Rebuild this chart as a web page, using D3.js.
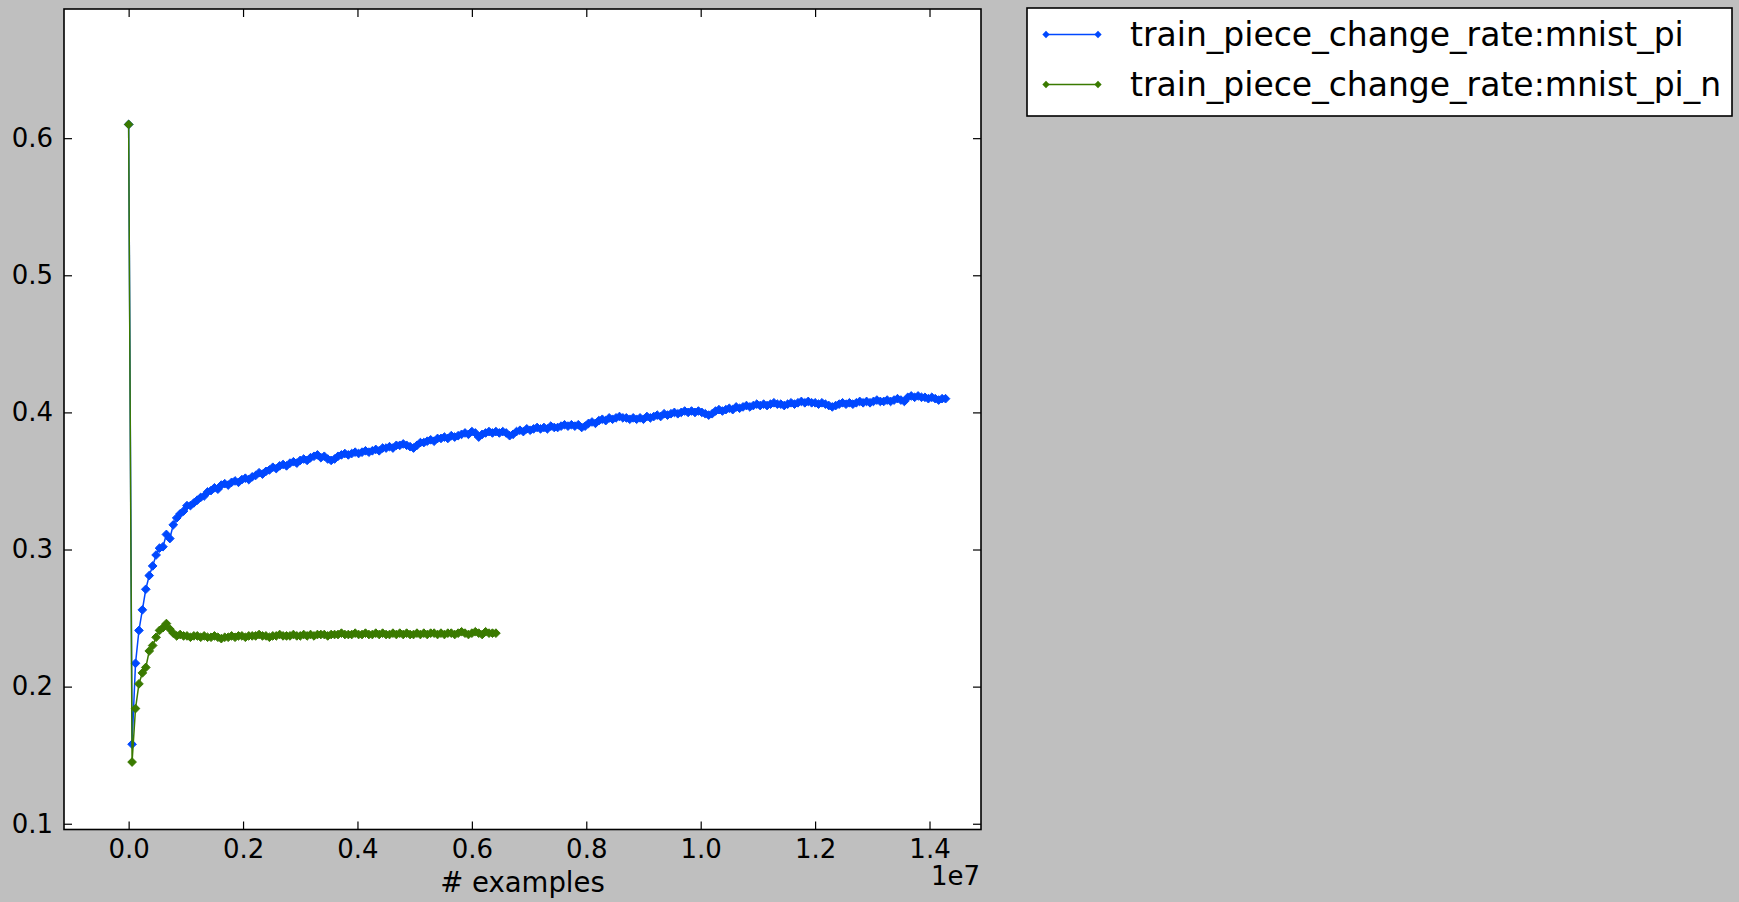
<!DOCTYPE html>
<html>
<head>
<meta charset="utf-8">
<script src="https://cdn.jsdelivr.net/npm/d3@7"></script>
<style>
  html, body { margin: 0; padding: 0; background: #bfbfbf; }
  svg { display: block; }
  text { font-family: "DejaVu Sans", sans-serif; fill: #000; }
</style>
</head>
<body>
<svg id="chart"></svg>
<script>
// examples seen between two monitor points (one epoch)
const examplesPerEpoch = 60000;

// train_piece_change_rate:mnist_pi, one value per epoch
const mnistPi = [
  0.610, 0.158, 0.217, 0.241, 0.256, 0.271, 0.281, 0.288, 0.296, 0.301,
  0.302, 0.311, 0.308, 0.318, 0.323, 0.326, 0.328, 0.332, 0.332, 0.334,
  0.336, 0.338, 0.339, 0.342, 0.343, 0.345, 0.344, 0.347, 0.348, 0.347,
  0.349, 0.350, 0.349, 0.351, 0.352, 0.351, 0.353, 0.354, 0.356, 0.355,
  0.357, 0.358, 0.360, 0.359, 0.361, 0.362, 0.361, 0.363, 0.364, 0.363,
  0.365, 0.366, 0.365, 0.367, 0.368, 0.369, 0.367, 0.368, 0.366, 0.365,
  0.366, 0.368, 0.369, 0.370, 0.369, 0.370, 0.371, 0.370, 0.371, 0.372,
  0.371, 0.372, 0.373, 0.372, 0.374, 0.374, 0.375, 0.374, 0.376, 0.376,
  0.377, 0.376, 0.375, 0.374, 0.376, 0.378, 0.378, 0.379, 0.380, 0.379,
  0.381, 0.381, 0.382, 0.381, 0.383, 0.382, 0.383, 0.384, 0.385, 0.384,
  0.386, 0.385, 0.382, 0.384, 0.385, 0.386, 0.385, 0.386, 0.385, 0.386,
  0.385, 0.383, 0.384, 0.386, 0.387, 0.386, 0.388, 0.387, 0.388, 0.389,
  0.388, 0.389, 0.388, 0.390, 0.389, 0.389, 0.390, 0.391, 0.390, 0.391,
  0.390, 0.391, 0.389, 0.390, 0.392, 0.393, 0.392, 0.394, 0.395, 0.394,
  0.396, 0.395, 0.396, 0.397, 0.396, 0.396, 0.395, 0.396, 0.395, 0.396,
  0.395, 0.397, 0.396, 0.397, 0.398, 0.397, 0.399, 0.398, 0.399, 0.400,
  0.399, 0.400, 0.401, 0.400, 0.401, 0.400, 0.401, 0.400, 0.399, 0.398,
  0.399, 0.401, 0.402, 0.401, 0.402, 0.403, 0.402, 0.404, 0.403, 0.404,
  0.405, 0.404, 0.405, 0.406, 0.405, 0.406, 0.405, 0.406, 0.407, 0.406,
  0.406, 0.405, 0.406, 0.407, 0.406, 0.407, 0.408, 0.407, 0.408, 0.407,
  0.407, 0.406, 0.407, 0.406, 0.405, 0.404, 0.405, 0.406, 0.407, 0.406,
  0.407, 0.406, 0.407, 0.408, 0.407, 0.408, 0.407, 0.408, 0.409, 0.408,
  0.408, 0.409, 0.408, 0.409, 0.410, 0.409, 0.408, 0.411, 0.412, 0.411,
  0.412, 0.411, 0.411, 0.410, 0.411, 0.410, 0.409, 0.410, 0.410
];

// train_piece_change_rate:mnist_pi_n, one value per epoch
const mnistPiN = [
  0.610, 0.145, 0.184, 0.202, 0.210, 0.214, 0.226, 0.230, 0.236, 0.241,
  0.243, 0.246, 0.242, 0.239, 0.237, 0.238, 0.237, 0.237, 0.236, 0.237,
  0.237, 0.236, 0.237, 0.236, 0.236, 0.237, 0.236, 0.235, 0.236, 0.236,
  0.237, 0.236, 0.237, 0.237, 0.236, 0.237, 0.237, 0.237, 0.238, 0.237,
  0.237, 0.236, 0.237, 0.237, 0.238, 0.237, 0.237, 0.237, 0.238, 0.237,
  0.237, 0.238, 0.237, 0.238, 0.237, 0.238, 0.238, 0.238, 0.237, 0.238,
  0.238, 0.238, 0.239, 0.238, 0.238, 0.238, 0.239, 0.238, 0.238, 0.239,
  0.238, 0.238, 0.239, 0.238, 0.239, 0.238, 0.238, 0.239, 0.238, 0.239,
  0.238, 0.239, 0.238, 0.238, 0.239, 0.238, 0.239, 0.238, 0.239, 0.239,
  0.238, 0.239, 0.238, 0.239, 0.239, 0.238, 0.239, 0.240, 0.239, 0.238,
  0.239, 0.240, 0.239, 0.238, 0.240, 0.239, 0.239, 0.239
];

const seriesNames = ["train_piece_change_rate:mnist_pi", "train_piece_change_rate:mnist_pi_n"];
const seriesColors = ["#0048ff", "#3a7a00"];
const xTicks = [0, 2e6, 4e6, 6e6, 8e6, 10e6, 12e6, 14e6];
const yTicks = [0.1, 0.2, 0.3, 0.4, 0.5, 0.6];

const W = 1739, H = 902;
const plot = {left: 64, top: 9, right: 981, bottom: 829.5};

const svg = d3.select("#chart").attr("width", W).attr("height", H);

const x = d3.scaleLinear().domain([-1.13e6, 1.49e7]).range([plot.left, plot.right]);
const y = d3.scaleLinear().domain([0.0958, 0.6942]).range([plot.bottom, plot.top]);

svg.append("rect")
  .attr("x", plot.left).attr("y", plot.top)
  .attr("width", plot.right - plot.left).attr("height", plot.bottom - plot.top)
  .attr("fill", "#fff");

function styleAxis(g) {
  g.select(".domain").remove();
  g.selectAll(".tick line").attr("stroke", "#000").attr("stroke-width", 1.2);
  g.selectAll(".tick text").attr("font-size", "26px").attr("font-family", "DejaVu Sans");
}

svg.append("g")
  .attr("transform", "translate(0," + plot.bottom + ")")
  .call(d3.axisBottom(x).tickValues(xTicks).tickSizeInner(-8).tickSizeOuter(0).tickPadding(10)
    .tickFormat(d => d3.format(".1f")(d / 1e7)))
  .call(styleAxis);

svg.append("g")
  .attr("transform", "translate(0," + plot.top + ")")
  .call(d3.axisTop(x).tickValues(xTicks).tickSizeInner(-8).tickSizeOuter(0).tickFormat(""))
  .call(styleAxis);

svg.append("g")
  .attr("transform", "translate(" + plot.left + ",0)")
  .call(d3.axisLeft(y).tickValues(yTicks).tickSizeInner(-8).tickSizeOuter(0).tickPadding(11)
    .tickFormat(d3.format(".1f")))
  .call(styleAxis);

svg.append("g")
  .attr("transform", "translate(" + plot.right + ",0)")
  .call(d3.axisRight(y).tickValues(yTicks).tickSizeInner(-8).tickSizeOuter(0).tickFormat(""))
  .call(styleAxis);

svg.append("clipPath").attr("id", "clip")
  .append("rect")
  .attr("x", plot.left).attr("y", plot.top)
  .attr("width", plot.right - plot.left).attr("height", plot.bottom - plot.top);

const line = d3.line()
  .x((d, i) => x(i * examplesPerEpoch))
  .y(d => y(d));

const diamond = d3.symbol().type(d3.symbolDiamond2 || d3.symbolDiamond).size(48);
const legendDiamond = d3.symbol().type(d3.symbolDiamond2 || d3.symbolDiamond).size(34);

const layer = svg.append("g").attr("clip-path", "url(#clip)");
[mnistPi, mnistPiN].forEach((vals, k) => {
  layer.append("path")
    .datum(vals)
    .attr("d", line)
    .attr("fill", "none")
    .attr("stroke", seriesColors[k])
    .attr("stroke-width", 1.5);
  layer.append("g").selectAll("path")
    .data(vals)
    .join("path")
    .attr("d", diamond)
    .attr("transform", (d, i) => "translate(" + x(i * examplesPerEpoch) + "," + y(d) + ")")
    .attr("fill", seriesColors[k])
    .attr("stroke", seriesColors[k])
    .attr("stroke-width", 1);
});

// frame
svg.append("rect")
  .attr("x", plot.left).attr("y", plot.top)
  .attr("width", plot.right - plot.left).attr("height", plot.bottom - plot.top)
  .attr("fill", "none").attr("stroke", "#000").attr("stroke-width", 1.6);

svg.append("text")
  .attr("x", (plot.left + plot.right) / 2).attr("y", 892)
  .attr("text-anchor", "middle").attr("font-size", "27.5px")
  .text("# examples");

svg.append("text")
  .attr("x", plot.right - 1).attr("y", 885)
  .attr("text-anchor", "end").attr("font-size", "26px")
  .text("1e7");

// legend
const legend = svg.append("g");
legend.append("rect")
  .attr("x", 1027).attr("y", 8).attr("width", 705).attr("height", 108)
  .attr("fill", "#fff").attr("stroke", "#000").attr("stroke-width", 1.6);

seriesNames.forEach((name, k) => {
  const ry = 34.5 + k * 50;
  legend.append("line")
    .attr("x1", 1046).attr("x2", 1098).attr("y1", ry).attr("y2", ry)
    .attr("stroke", seriesColors[k]).attr("stroke-width", 1.5);
  [1046, 1098].forEach(px => {
    legend.append("path")
      .attr("d", legendDiamond)
      .attr("transform", "translate(" + px + "," + ry + ")")
      .attr("fill", seriesColors[k]);
  });
  legend.append("text")
    .attr("x", 1130).attr("y", ry).attr("dy", "0.36em")
    .attr("font-size", "33px")
    .text(name);
});
</script>
</body>
</html>
